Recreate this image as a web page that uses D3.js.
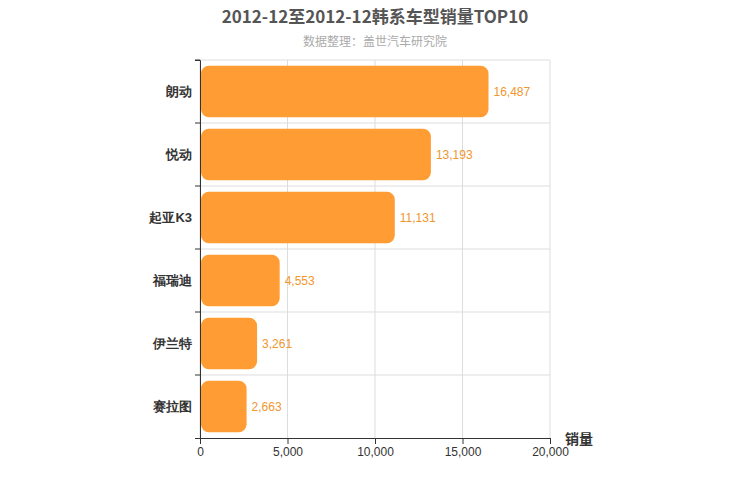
<!DOCTYPE html>
<html><head><meta charset="utf-8">
<script src="https://cdn.jsdelivr.net/npm/d3@7"></script>
<style>body{margin:0;background:#fff;font-family:"Noto Sans CJK SC",sans-serif}</style>
</head><body><svg id="svg" width="750" height="500"></svg>
<script>
const categories = ["朗动", "悦动", "起亚K3", "福瑞迪", "伊兰特", "赛拉图"];
const sales = [16487, 13193, 11131, 4553, 3261, 2663];
const xTicks = [0, 5000, 10000, 15000, 20000];

const svg = d3.select("#svg");
const mLeft = 200, mRight = 550, mTop = 60, mBottom = 438;

const x = d3.scaleLinear().domain([0, 20000]).range([mLeft, mRight]);
const y = d3.scaleBand().domain(categories).range([mTop, mBottom]).paddingInner(0.18).paddingOuter(0.09);
const yLines = d3.scaleBand().domain(categories).range([mTop, mBottom]);

// grid
svg.append("g").selectAll("line").data(xTicks).join("line")
  .attr("x1", d => x(d)).attr("x2", d => x(d)).attr("y1", mTop).attr("y2", mBottom)
  .attr("stroke", "#ddd");
svg.append("g").selectAll("line").data(categories).join("line")
  .attr("x1", mLeft).attr("x2", mRight)
  .attr("y1", d => yLines(d)).attr("y2", d => yLines(d))
  .attr("stroke", "#ddd");

// bars
svg.append("g").selectAll("rect").data(sales).join("rect")
  .attr("x", x(0) + 1)
  .attr("y", (d, i) => y(categories[i]))
  .attr("width", d => x(d) - x(0) - 1)
  .attr("height", y.bandwidth())
  .attr("rx", 8)
  .attr("fill", "#ff9c33");

svg.append("g").selectAll("text").data(sales).join("text")
  .attr("x", d => x(d) + 5)
  .attr("y", (d, i) => y(categories[i]) + y.bandwidth() / 2 + 4)
  .attr("font-size", 12).attr("font-family", "Arial, Liberation Sans, sans-serif")
  .attr("fill", "#f0962f")
  .text(d => d3.format(",")(d));

// axes
const xAxis = svg.append("g").attr("transform", `translate(0,${mBottom})`)
  .call(d3.axisBottom(x).tickValues(xTicks).tickFormat(d3.format(",")).tickSizeOuter(0));
const yAxis = svg.append("g").attr("transform", `translate(${mLeft},0)`)
  .call(d3.axisLeft(yLines).tickSizeOuter(0).tickSize(5));
[xAxis, yAxis].forEach(a => {
  a.selectAll("path, line").attr("stroke", "#333");
  a.selectAll("text").attr("fill", "#333").attr("font-size", 12);
});
xAxis.selectAll("text").attr("font-family", "Arial, Liberation Sans, sans-serif");
yAxis.selectAll("text").attr("font-weight", "bold").attr("font-size", 13);
yAxis.selectAll(".tick line").remove();
// band boundary ticks on y axis
svg.append("g").selectAll("line").data(categories).join("line")
  .attr("x1", mLeft - 5).attr("x2", mLeft)
  .attr("y1", d => yLines(d)).attr("y2", d => yLines(d)).attr("stroke", "#333");

svg.append("text").attr("x", 565).attr("y", 444).attr("font-size", 14)
  .attr("font-weight", "bold").attr("fill", "#333").text("销量");

svg.append("text").attr("x", 375).attr("y", 23).attr("text-anchor", "middle")
  .attr("font-size", 17).attr("font-weight", "bold").attr("fill", "#555")
  .text("2012-12至2012-12韩系车型销量TOP10");
svg.append("text").attr("x", 375).attr("y", 46).attr("text-anchor", "middle")
  .attr("font-size", 12).attr("fill", "#aaa").text("数据整理：盖世汽车研究院");
</script></body></html>
